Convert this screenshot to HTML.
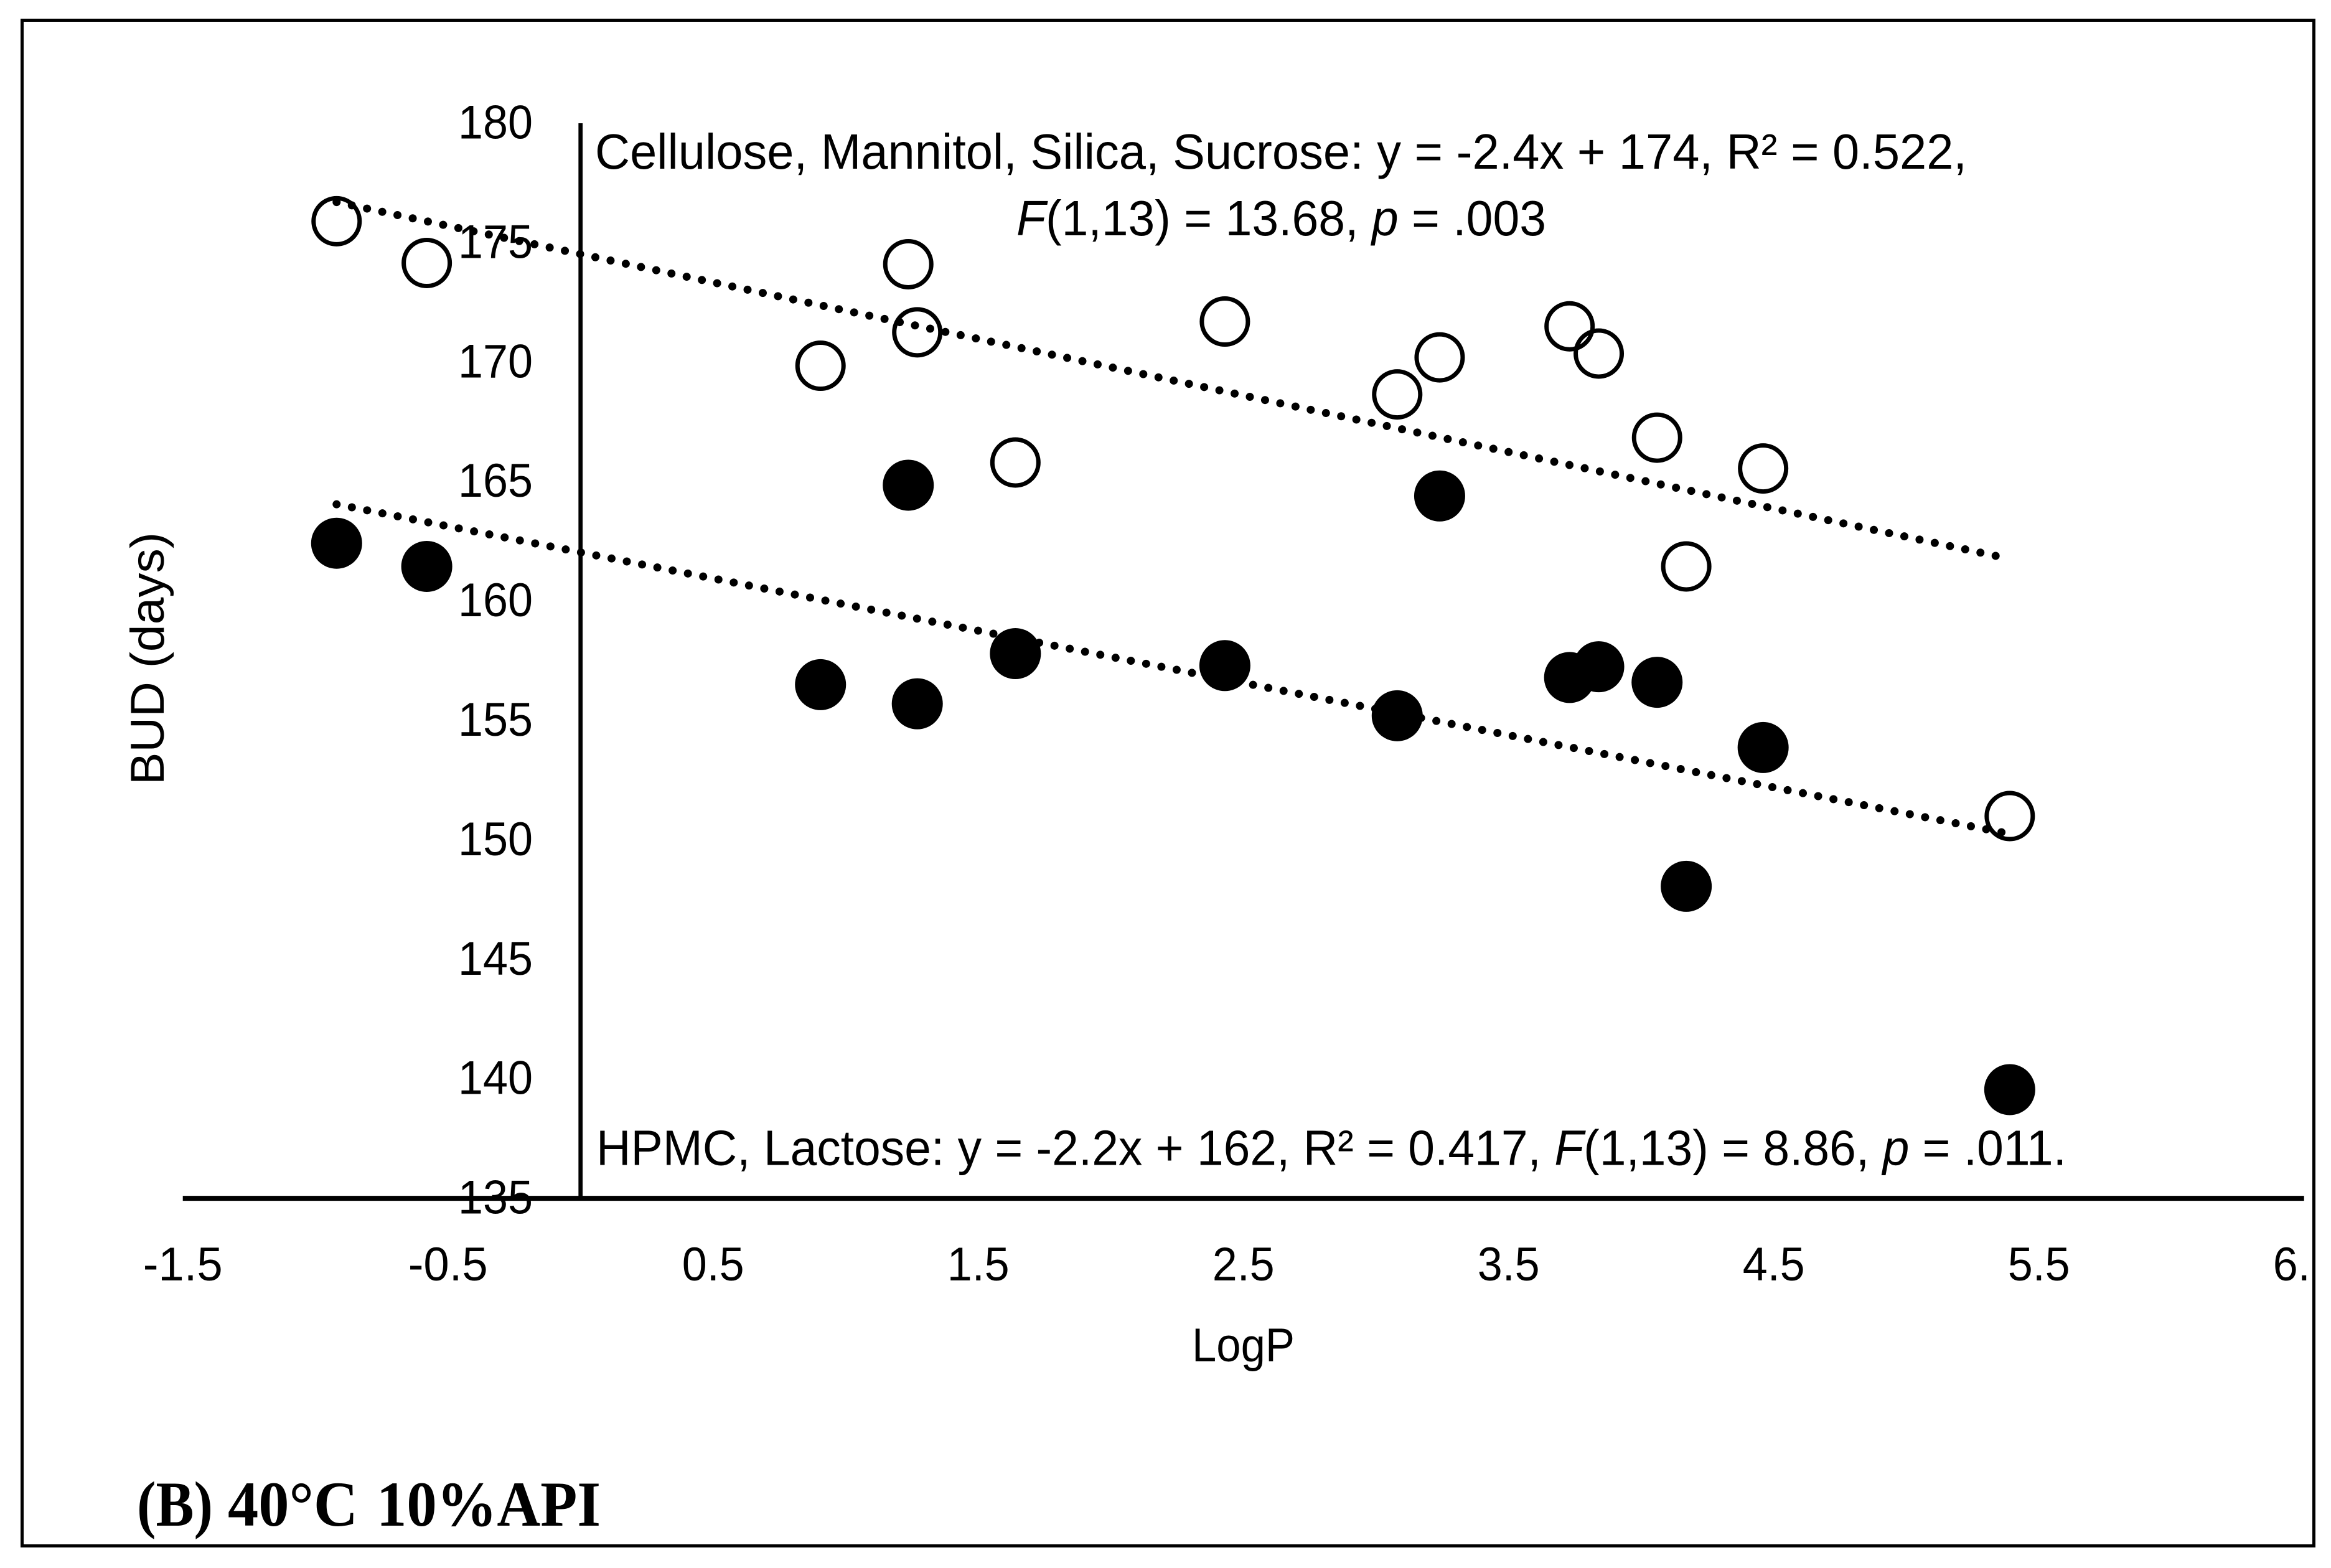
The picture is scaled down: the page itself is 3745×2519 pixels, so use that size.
<!DOCTYPE html>
<html lang="en">
<head>
<meta charset="utf-8">
<title>BUD vs LogP (B) 40°C 10%API</title>
<style>
html,body{margin:0;padding:0;background:#fff;width:3745px;height:2519px;overflow:hidden}
svg{display:block}
text{fill:#000;font-family:"Liberation Sans",sans-serif}
</style>
</head>
<body>
<svg id="chart" xmlns="http://www.w3.org/2000/svg" width="3745" height="2519" viewBox="0 0 3745 2519">
  <defs><clipPath id="tick-clip"><rect x="0" y="0" width="3709" height="2519"/></clipPath></defs>
  <rect x="0" y="0" width="3745" height="2519" fill="#fff"/>
  <rect x="35.5" y="32.5" width="3682" height="2451" fill="none" stroke="#000" stroke-width="5"/>
  <text x="956" y="271" font-size="80" textLength="2204" lengthAdjust="spacingAndGlyphs">Cellulose, Mannitol, Silica, Sucrose: y = -2.4x + 174, R² = 0.522,</text>
  <text x="1633" y="378" font-size="80" textLength="851" lengthAdjust="spacingAndGlyphs"><tspan font-style="italic">F</tspan>(1,13) = 13.68, <tspan font-style="italic">p</tspan> = .003</text>
  <text x="958" y="1871.5" font-size="80" textLength="2362" lengthAdjust="spacingAndGlyphs">HPMC, Lactose: y = -2.2x + 162, R² = 0.417, <tspan font-style="italic">F</tspan>(1,13) = 8.86, <tspan font-style="italic">p</tspan> = .011.</text>
  <text x="1915" y="2187" font-size="76" textLength="165" lengthAdjust="spacingAndGlyphs">LogP</text>
  <text transform="translate(263,1261) rotate(-90)" font-size="76" textLength="406" lengthAdjust="spacingAndGlyphs">BUD (days)</text>
  <text y="2451" font-size="103" font-weight="bold" style="font-family:'Liberation Serif',serif"><tspan x="220" textLength="122" lengthAdjust="spacingAndGlyphs">(B)</tspan> <tspan x="366" textLength="209" lengthAdjust="spacingAndGlyphs">40°C</tspan> <tspan x="605" textLength="360" lengthAdjust="spacingAndGlyphs">10%API</tspan></text>
</svg>
<script>
// Chart data
const logP = [-0.92, -0.58, 0.905, 1.236, 1.27, 1.64, 2.43, 3.08, 3.24, 3.73, 3.84, 4.06, 4.17, 4.46, 5.39];
const budOpen = [175.9, 174.15, 169.85, 174.1, 171.25, 165.8, 171.7, 168.65, 170.2, 171.5, 170.36, 166.84, 161.45, 165.55, 151.0];
const budFilled = [162.42, 161.45, 156.5, 164.85, 155.7, 157.8, 157.3, 155.2, 164.4, 156.8, 157.25, 156.6, 148.06, 153.87, 139.55];
const trendOpenX = [-0.92, 5.338];
const trendOpenY = [176.7, 161.89];
const trendFilledX = [-0.92, 5.36];
const trendFilledY = [164.05, 150.32];
const xTicks = ['-1.5', '-0.5', '0.5', '1.5', '2.5', '3.5', '4.5', '5.5', '6.5'];
const yTicks = ['135', '140', '145', '150', '155', '160', '165', '170', '175', '180'];

const NS = 'http://www.w3.org/2000/svg';
const svg = document.getElementById('chart');
const X = v => 932.7 + v * 426;
const Y = v => 198 + (180 - v) * 38.38;
function mk(tag, attrs, parent) {
  const el = document.createElementNS(NS, tag);
  for (const k in attrs) el.setAttribute(k, attrs[k]);
  (parent || svg).appendChild(el);
  return el;
}
// Evenly spaced round dots, with one landing on each end of the line
function dotGap(x1, y1, x2, y2) {
  const len = Math.hypot(x2 - x1, y2 - y1);
  return len / (Math.round(len / 25) + 0.02);
}

// Axes
const yAxis = mk('line', {x1: X(0), x2: X(0), y1: Y(180), y2: Y(135), stroke: '#000', 'stroke-width': 6.7});


const xAxis = mk('line', {x1: X(-1.5), x2: X(6.5), y1: Y(135), y2: Y(135), stroke: '#000', 'stroke-width': 8});



// Tick labels
yTicks.forEach(t => {
  const el = mk('text', {x: 856, y: Y(+t) + 24.5, 'font-size': 76, 'text-anchor': 'end', textLength: 120, lengthAdjust: 'spacingAndGlyphs'});
  el.textContent = t;
  
  
});
xTicks.forEach(t => {
  const el = mk('text', {x: X(+t), y: 2057, 'font-size': 76, 'text-anchor': 'middle', 'clip-path': 'url(#tick-clip)', textLength: t.length === 3 ? 100 : 128, lengthAdjust: 'spacingAndGlyphs'});
  el.textContent = t;
  
  
});

// Trend lines
const oCoords = [X(trendOpenX[0]), Y(trendOpenY[0]), X(trendOpenX[1]), Y(trendOpenY[1])];
const lineOpen = mk('line', {x1: oCoords[0], y1: oCoords[1], x2: oCoords[2], y2: oCoords[3], stroke: '#000', 'stroke-width': 13, 'stroke-linecap': 'round', 'stroke-dasharray': '0 ' + dotGap(...oCoords)});


const fCoords = [X(trendFilledX[0]), Y(trendFilledY[0]), X(trendFilledX[1]), Y(trendFilledY[1])];
const lineFilled = mk('line', {x1: fCoords[0], y1: fCoords[1], x2: fCoords[2], y2: fCoords[3], stroke: '#000', 'stroke-width': 13, 'stroke-linecap': 'round', 'stroke-dasharray': '0 ' + dotGap(...fCoords)});



// Points
logP.forEach((x, i) => {
  const o = mk('circle', {cx: X(x), cy: Y(budOpen[i]), r: 37, fill: 'none', stroke: '#000', 'stroke-width': 7});
  
  
});
logP.forEach((x, i) => {
  const f = mk('circle', {cx: X(x), cy: Y(budFilled[i]), r: 41, fill: '#000'});
  
  
});
</script>
</body>
</html>
